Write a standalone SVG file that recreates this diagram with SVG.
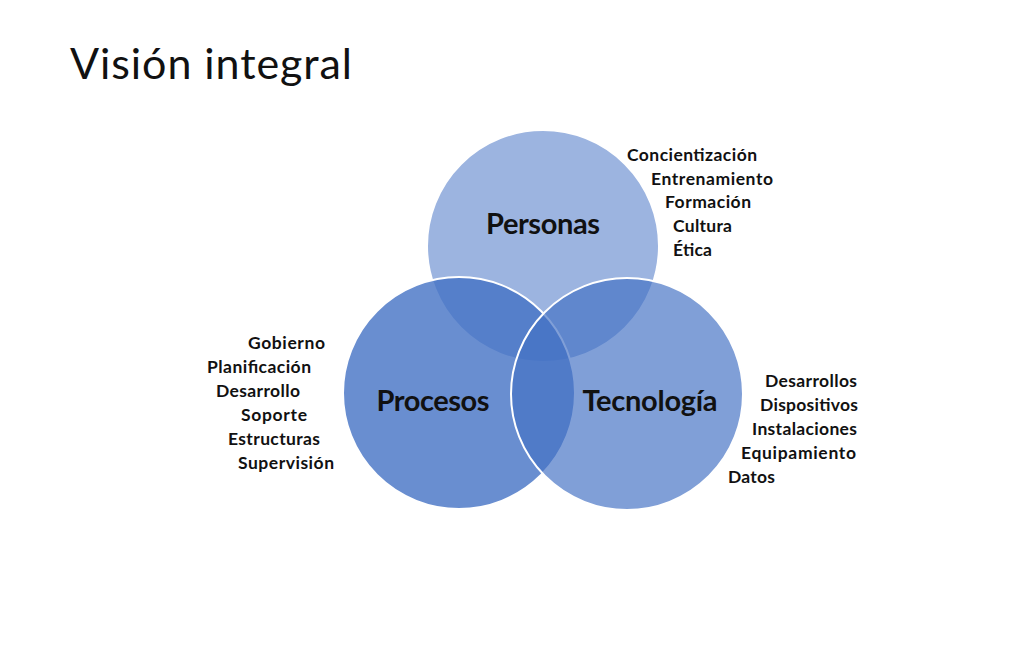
<svg xmlns="http://www.w3.org/2000/svg" width="1029" height="645" viewBox="0 0 1029 645">
<style>
.title{font-family:Lato,"Open Sans","Liberation Sans",sans-serif;font-size:43px;fill:#111;}
.main{font-family:Lato,"Open Sans","Liberation Sans",sans-serif;font-size:29px;font-weight:bold;fill:#111;text-anchor:middle;}
.item{font-family:Lato,"Open Sans","Liberation Sans",sans-serif;font-size:17.5px;font-weight:bold;fill:#111;}
.circ{fill:#4472C4;stroke:#ffffff;stroke-width:2;}
</style>
<rect width="1029" height="645" fill="#ffffff"/>
<text class="title" x="70" y="79" textLength="282">Visión integral</text>
<g id="personas">
<circle class="circ" cx="543" cy="246" r="116" fill-opacity="0.53"/>
</g>
<g id="procesos">
<circle class="circ" cx="459" cy="393" r="116" fill-opacity="0.8"/>
</g>
<g id="tecnologia">
<circle class="circ" cx="627" cy="394" r="116" fill-opacity="0.68"/>
</g>
<g id="labels">
<text class="main" x="543" y="234" textLength="114">Personas</text>
<text class="main" x="433" y="411" textLength="113">Procesos</text>
<text class="main" x="650" y="411" textLength="135">Tecnología</text>
</g>
<g id="personas-list">
<text class="item" x="627" y="161" textLength="130">Concientización</text>
<text class="item" x="651" y="185" textLength="122">Entrenamiento</text>
<text class="item" x="665" y="208" textLength="86">Formación</text>
<text class="item" x="673" y="232" textLength="59">Cultura</text>
<text class="item" x="673" y="256" textLength="39">Ética</text>
</g>
<g id="procesos-list">
<text class="item" x="248" y="349" textLength="77">Gobierno</text>
<text class="item" x="207" y="373" textLength="104">Planificación</text>
<text class="item" x="216" y="397" textLength="84">Desarrollo</text>
<text class="item" x="241" y="421" textLength="66">Soporte</text>
<text class="item" x="228" y="445" textLength="92">Estructuras</text>
<text class="item" x="238" y="469" textLength="96">Supervisión</text>
</g>
<g id="tecnologia-list">
<text class="item" x="765" y="387" textLength="92">Desarrollos</text>
<text class="item" x="760" y="411" textLength="98">Dispositivos</text>
<text class="item" x="752" y="435" textLength="105">Instalaciones</text>
<text class="item" x="741" y="459" textLength="115">Equipamiento</text>
<text class="item" x="728" y="483" textLength="47">Datos</text>
</g>
</svg>
